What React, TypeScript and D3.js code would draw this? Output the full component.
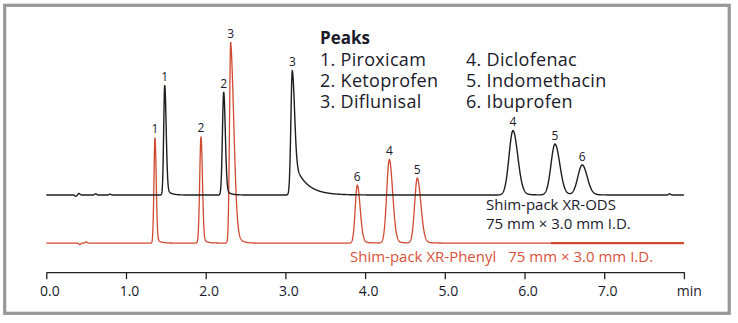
import React, { useEffect, useRef } from "react";
import * as d3 from "d3";

// ---- Data ----
const axisTicks = [0, 1, 2, 3, 4, 5, 6, 7, 8];
const tickLabels = ["0.0", "1.0", "2.0", "3.0", "4.0", "5.0", "6.0", "7.0", ""];

const legendCol1 = ["1. Piroxicam", "2. Ketoprofen", "3. Diflunisal"];
const legendCol2 = ["4. Diclofenac", "5. Indomethacin", "6. Ibuprofen"];

// Shim-pack XR-ODS (black trace)
const odsLabels = ["1", "2", "3", "4", "5", "6"];
const odsTimes = [1.486, 2.226, 3.087, 5.856, 6.383, 6.725];
const odsHeights = [110, 103, 124.5, 64.5, 51, 30];
const odsSigmaL = [0.013, 0.016, 0.018, 0.05, 0.05, 0.055];
const odsSigmaR = [0.018, 0.02, 0.028, 0.06, 0.06, 0.062];
const odsTailAmp = [0.08, 0.08, 0.3, 0.05, 0.05, 0.05];
const odsTailTau = [0.05, 0.05, 0.15, 0.1, 0.1, 0.1];
const odsBumpTimes = [0.37, 0.41, 0.62, 0.8, 7.82];
const odsBumpHeights = [-1.2, 1.5, 1.2, 0.8, 1.2];
const odsOffset = 77.7;

// Shim-pack XR-Phenyl (red trace)
const phenylLabels = ["1", "2", "3", "6", "4", "5"];
const phenylTimes = [1.364, 1.941, 2.314, 3.902, 4.304, 4.655];
const phenylHeights = [105.5, 106.3, 201, 58, 83.7, 65];
const phenylSigmaL = [0.013, 0.016, 0.015, 0.026, 0.033, 0.033];
const phenylSigmaR = [0.015, 0.018, 0.04, 0.036, 0.042, 0.045];
const phenylTailAmp = [0.05, 0.05, 0.2, 0.05, 0.05, 0.05];
const phenylTailTau = [0.05, 0.05, 0.05, 0.08, 0.08, 0.08];
const phenylBumpTimes = [0.42, 0.5];
const phenylBumpHeights = [-1.5, 1.2];
const phenylOffset = 29.6;

const W = 738;
const H = 323;
const FONT = "'Open Sans', 'DejaVu Sans', sans-serif";
const INK = "#1a1a2a";
const RED = "#d14a2f";

function peakValue(t: number, rt: number, h: number, sl: number, sr: number, a: number, tau: number) {
  const dt = t - rt;
  if (dt < 0) return h * Math.exp(-(dt * dt) / (2 * sl * sl));
  return h * ((1 - a) * Math.exp(-(dt * dt) / (2 * sr * sr)) + a * Math.exp(-dt / tau));
}

function buildTrace(
  times: number[], heights: number[], sl: number[], sr: number[], amp: number[], tau: number[],
  bumpT: number[], bumpH: number[], t0: number, t1: number
) {
  const pts: { t: number; v: number }[] = [];
  const step = 0.002;
  for (let t = t0; t <= t1 + 1e-9; t += step) {
    let v = 0;
    for (let i = 0; i < times.length; i++) v += peakValue(t, times[i], heights[i], sl[i], sr[i], amp[i], tau[i]);
    for (let i = 0; i < bumpT.length; i++) {
      const dt = t - bumpT[i];
      v += bumpH[i] * Math.exp(-(dt * dt) / (2 * 0.012 * 0.012));
    }
    pts.push({ t, v });
  }
  return pts;
}

export default function App() {
  const axisRef = useRef<SVGGElement>(null);

  const x = d3.scaleLinear().domain([0, 8]).range([46.3, 683.9]);
  const y = d3.scaleLinear().domain([0, 250]).range([272.7, 22.7]);

  const odsPts = buildTrace(odsTimes, odsHeights, odsSigmaL, odsSigmaR, odsTailAmp, odsTailTau, odsBumpTimes, odsBumpHeights, 0, 8);
  const phPts = buildTrace(phenylTimes, phenylHeights, phenylSigmaL, phenylSigmaR, phenylTailAmp, phenylTailTau, phenylBumpTimes, phenylBumpHeights, 0, 8);
  const phThick = phPts.filter((p) => p.t >= 6.33);

  const odsLine = d3.line<{ t: number; v: number }>().x((d) => x(d.t)).y((d) => y(d.v + odsOffset));
  const phLine = d3.line<{ t: number; v: number }>().x((d) => x(d.t)).y((d) => y(d.v + phenylOffset));

  useEffect(() => {
    if (!axisRef.current) return;
    const g = d3.select(axisRef.current);
    g.selectAll("*").remove();
    g.call(
      d3.axisBottom(x)
        .tickValues(axisTicks)
        .tickFormat((_d, i) => tickLabels[i])
        .tickSize(7)
        .tickSizeOuter(0) as any
    );
    g.select(".domain").attr("stroke", "#222").attr("stroke-width", 1.3);
    g.selectAll(".tick line").attr("stroke", "#222").attr("stroke-width", 1.3);
    g.selectAll(".tick text")
      .attr("font-family", FONT)
      .attr("font-size", 14)
      .attr("fill", INK)
      .attr("dx", 3)
      .attr("y", 13.4);
  }, []);

  return (
    <svg width={W} height={H} style={{ position: "absolute", left: 0, top: 0, display: "block", background: "#fff" }}>
      <rect x={4.7} y={5.3} width={724.5} height={308} fill="#fff" stroke="#98989c" strokeWidth={3.2} />

      {/* traces */}
      <path d={phLine(phPts) || ""} fill="none" stroke={RED} strokeWidth={1.3} />
      <path d={phLine(phThick) || ""} fill="none" stroke={RED} strokeWidth={2.4} />
      <path d={odsLine(odsPts) || ""} fill="none" stroke="#1e1e1e" strokeWidth={1.4} />

      {/* peak labels */}
      {odsLabels.map((l, i) => (
        <text key={"o" + i} x={x(odsTimes[i])} y={y(odsHeights[i] + odsOffset) - 4.5} textAnchor="middle"
          fontFamily={FONT} fontSize={12} fill={INK}>{l}</text>
      ))}
      {phenylLabels.map((l, i) => (
        <text key={"p" + i} x={x(phenylTimes[i])} y={y(phenylHeights[i] + phenylOffset) - 4.5} textAnchor="middle"
          fontFamily={FONT} fontSize={12} fill={INK}>{l}</text>
      ))}

      {/* legend */}
      <text x={320} y={43.5} fontFamily={FONT} fontSize={17} fontWeight="bold" fill={INK}>Peaks</text>
      {legendCol1.map((s, i) => (
        <text key={"a" + i} x={320} y={65.5 + i * 21.2} fontFamily={FONT} fontSize={18} letterSpacing={0.3} fill={INK}>{s}</text>
      ))}
      {legendCol2.map((s, i) => (
        <text key={"b" + i} x={466} y={65.5 + i * 21.2} fontFamily={FONT} fontSize={18} letterSpacing={0.3} fill={INK}>{s}</text>
      ))}

      {/* column annotations */}
      <text x={486} y={210} fontFamily={FONT} fontSize={15} fill={INK}>Shim-pack XR-ODS</text>
      <text x={486} y={228.5} fontFamily={FONT} fontSize={15} fill={INK}>75 mm × 3.0 mm I.D.</text>
      <text x={350} y={261.5} fontFamily={FONT} fontSize={15} fill="#d9523b">Shim-pack XR-Phenyl</text>
      <text x={508.3} y={261.5} fontFamily={FONT} fontSize={15} fill="#d9523b">75 mm × 3.0 mm I.D.</text>

      {/* x axis */}
      <g ref={axisRef} transform="translate(0,272.2)" />
      <text x={676.7} y={296} fontFamily={FONT} fontSize={14} fill={INK}>min</text>
    </svg>
  );
}
